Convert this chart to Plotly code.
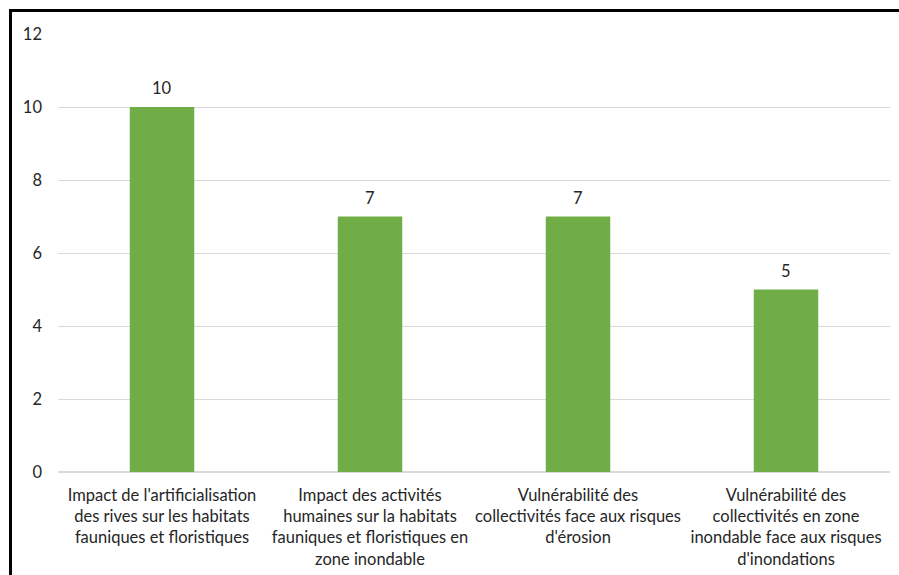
import plotly.graph_objects as go

categories = [
    "Impact de l'artificialisation<br>des rives sur les habitats<br>fauniques et floristiques",
    "Impact des activités<br>humaines sur la habitats<br>fauniques et floristiques en<br>zone inondable",
    "Vulnérabilité des<br>collectivités face aux risques<br>d'érosion",
    "Vulnérabilité des<br>collectivités en zone<br>inondable face aux risques<br>d'inondations",
]
values = [10, 7, 7, 5]
y_ticks = [0, 2, 4, 6, 8, 10, 12]

W, H = 899, 575
L, R, T, B = 58, 9, 34, 103
pw, ph = W - L - R, H - T - B
FONT = "Lato, sans-serif"
FS = 16.5

fig = go.Figure(go.Bar(
    x=categories, y=values,
    marker=dict(color="#70AD47", line=dict(width=0)),
    width=0.31,
    cliponaxis=False,
))

for c, v in zip(categories, values):
    fig.add_annotation(x=c, y=v, text=str(v), showarrow=False, yshift=19,
                       yanchor="middle", font=dict(size=FS, color="#262626", family=FONT))

fig.update_layout(
    width=W, height=H,
    margin=dict(l=L, r=R, t=T, b=B, autoexpand=False),
    paper_bgcolor="white", plot_bgcolor="white",
    font=dict(family=FONT, size=FS, color="#262626"),
    showlegend=False,
    xaxis=dict(showgrid=False, showline=False, ticks="", tickangle=0, automargin=False,
               ticklabelstandoff=11, tickfont=dict(size=FS, color="#262626")),
    yaxis=dict(range=[0, 12], tickvals=y_ticks, showgrid=True, gridcolor="#D9D9D9",
               gridwidth=1, zeroline=True, zerolinecolor="#D9D9D9", showline=False,
               automargin=False, ticks="", ticklabelstandoff=15,
               tickfont=dict(size=FS, color="#262626")),
)

# outer black border: only top and left edges are visible in the frame
ytop = 1 + (T - 10.5) / ph
xleft = (10.5 - L) / pw
fig.add_shape(type="line", xref="paper", yref="paper",
              x0=xleft - 1.5 / pw, x1=(W + 20 - L) / pw, y0=ytop, y1=ytop,
              line=dict(color="black", width=3), layer="above")
fig.add_shape(type="line", xref="paper", yref="paper",
              x0=xleft, x1=xleft, y0=ytop, y1=-(H + 20 - T - ph) / ph,
              line=dict(color="black", width=3), layer="above")

fig.write_html(
    "out.html",
    config={"displayModeBar": False},
    post_script="document.body.style.margin='0';"
                "document.documentElement.style.overflow='hidden';"
                "document.body.style.overflow='hidden';",
)
